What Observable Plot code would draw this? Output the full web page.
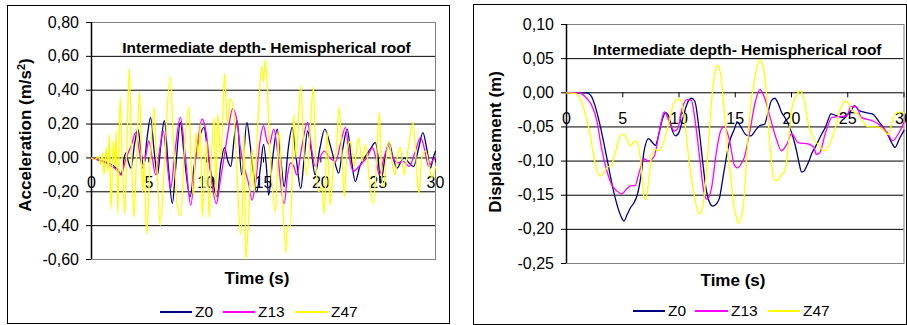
<!DOCTYPE html>
<html><head><meta charset="utf-8">
<script src="https://cdn.jsdelivr.net/npm/d3@7"></script>
<script src="https://cdn.jsdelivr.net/npm/@observablehq/plot@0.6"></script>
<style>
body{margin:0;background:#fff;font-family:"Liberation Sans",Arial,sans-serif;}
#root{position:relative;width:907px;height:325px;overflow:hidden;background:#fff}
.panel{position:absolute;border:1px solid #000;box-sizing:border-box;overflow:hidden;background:#fff}
.abs{position:absolute;white-space:nowrap;color:#000;line-height:1}
.ytitle{font-weight:bold;font-size:17px;transform:translate(-50%,-50%) rotate(-90deg)}
.xtitle{font-weight:bold;font-size:17px;transform:translate(-50%,-50%)}
.leg{font-size:15.5px;transform:translateY(-50%)}
.sw{position:absolute;height:0;border-top:2px solid}
.panel svg{position:absolute;left:0;top:0;max-width:none !important}
</style>
</head><body>
<div id="root">
  <div class="panel" id="pL" style="left:7px;top:5px;width:443px;height:319px"></div>
  <div class="panel" id="pR" style="left:473px;top:4px;width:434px;height:321px"></div>
</div>
<script>
const seriesNames = ["Z0", "Z13", "Z47"];
const seriesColors = ["#000080", "#ff00ff", "#ffff00"];
const chartTitle = "Intermediate depth- Hemispherical roof";
const xTicks = [0, 5, 10, 15, 20, 25, 30];
const accYTicks = [0.8, 0.6, 0.4, 0.2, 0, -0.2, -0.4, -0.6];
const dispYTicks = [0.10, 0.05, 0.00, -0.05, -0.10, -0.15, -0.20, -0.25];

// Acceleration (m/s2) vs time (s)
const accZ0 = [[0,0],[0.5,-0.01],[1.0,-0.02],[1.5,-0.03],[2.0,-0.05],[2.3,-0.07],[2.6,-0.10],[2.85,0.0],[3.0,0.03],[3.2,-0.02],[3.45,-0.06],[3.75,0.08],[4.05,0.17],[4.3,0.05],[4.55,-0.05],[4.85,0.12],[5.15,0.24],[5.45,0.05],[5.75,-0.10],[6.05,0.08],[6.35,0.22],[6.7,-0.05],[7.05,-0.27],[7.35,-0.05],[7.75,0.21],[8.1,0.0],[8.6,-0.23],[8.95,-0.05],[9.35,0.1],[9.8,0.18],[10.2,0.0],[10.6,-0.15],[10.95,-0.23],[11.25,-0.05],[11.6,0.06],[11.9,-0.02],[12.15,-0.05],[12.45,0.12],[12.7,0.22],[13.1,-0.1],[13.55,0.21],[13.8,0.1],[14.05,-0.05],[14.4,-0.20],[14.75,-0.05],[15.0,0.08],[15.25,-0.05],[15.45,-0.22],[15.8,0.0],[16.2,0.17],[16.5,0.0],[16.8,-0.17],[17.15,0.05],[17.5,0.18],[17.85,0.0],[18.25,-0.18],[18.55,0.0],[18.85,0.16],[19.15,0.05],[19.5,-0.10],[19.9,0.05],[20.35,0.17],[20.8,0.08],[21.2,-0.02],[21.55,-0.09],[21.9,0.05],[22.3,0.17],[22.65,0.0],[23.0,-0.14],[23.4,-0.05],[23.8,0.0],[24.3,0.05],[24.75,0.09],[25.0,0.0],[25.2,-0.15],[25.6,0.0],[25.95,0.09],[26.3,0.0],[26.65,-0.06],[27.0,-0.02],[27.3,0.0],[27.7,-0.03],[28.1,-0.05],[28.5,0.05],[28.9,0.15],[29.25,0.05],[29.55,-0.06],[29.8,0.0],[30,0.04]];
const accZ13 = [[0,0],[0.5,-0.01],[1.0,-0.02],[1.5,-0.04],[2.0,-0.06],[2.3,-0.08],[2.6,-0.10],[2.9,-0.03],[3.15,0.02],[3.5,0.08],[3.85,0.15],[4.15,0.05],[4.45,-0.06],[4.75,0.02],[5.0,0.10],[5.3,0.0],[5.6,-0.10],[5.95,0.05],[6.25,0.16],[6.55,0.0],[6.9,-0.18],[7.3,0.05],[7.75,0.24],[8.2,0.0],[8.65,-0.28],[9.1,0.0],[9.65,0.23],[10.0,0.15],[10.4,-0.1],[10.9,-0.27],[11.2,-0.15],[11.55,0.0],[11.9,0.15],[12.3,0.29],[12.6,0.25],[13.0,0.05],[13.3,-0.05],[13.7,-0.15],[14.0,-0.25],[14.3,-0.15],[14.7,0.10],[15.0,0.19],[15.3,0.10],[15.5,0.08],[15.9,0.17],[16.2,0.05],[16.5,-0.15],[16.8,-0.27],[17.1,-0.1],[17.35,-0.03],[17.65,-0.05],[17.9,-0.10],[18.3,0.05],[18.85,0.21],[19.2,0.05],[19.5,-0.05],[19.9,0.0],[20.3,0.04],[20.8,0.0],[21.3,-0.02],[21.7,0.08],[22.15,0.18],[22.5,0.0],[22.85,-0.08],[23.2,-0.06],[23.6,-0.03],[24.0,0.0],[24.5,0.06],[24.8,0.0],[25.1,-0.10],[25.5,0.0],[25.9,0.07],[26.3,0.0],[26.7,-0.03],[27.2,-0.02],[27.7,-0.05],[28.2,0.03],[28.7,0.12],[29.05,0.05],[29.4,-0.05],[29.7,-0.02],[30,0.0]];
const accZ47 = [[0,0],[0.3,-0.01],[0.6,0.01],[0.8,-0.04],[0.95,0.03],[1.1,-0.10],[1.3,0.06],[1.45,-0.08],[1.55,0.14],[1.7,-0.30],[1.9,0.10],[2.05,-0.05],[2.15,0.16],[2.3,-0.33],[2.5,0.36],[2.7,-0.05],[2.9,-0.33],[3.1,0.10],[3.3,0.53],[3.5,0.0],[3.7,-0.35],[3.95,0.05],[4.2,0.39],[4.45,-0.20],[4.6,0.0],[4.8,-0.45],[5.1,-0.05],[5.45,0.30],[5.7,-0.05],[6.0,-0.40],[6.35,-0.05],[6.85,0.48],[7.15,0.10],[7.5,-0.29],[7.8,-0.34],[8.1,0.05],[8.5,0.30],[8.7,-0.05],[8.9,-0.23],[9.1,0.15],[9.3,0.0],[9.5,0.20],[9.65,-0.35],[9.9,-0.05],[10.05,0.10],[10.25,-0.35],[10.45,0.0],[10.7,0.24],[10.85,-0.25],[11.0,0.26],[11.3,0.0],[11.6,0.50],[11.85,0.20],[12.1,0.35],[12.4,0.28],[12.7,-0.10],[13.0,-0.45],[13.15,-0.30],[13.3,0.15],[13.45,-0.60],[13.7,-0.35],[14.0,0.05],[14.2,-0.20],[14.5,0.20],[14.85,0.54],[15.0,0.45],[15.15,0.58],[15.35,0.40],[15.5,0.10],[15.75,-0.15],[16.05,-0.32],[16.35,0.16],[16.6,-0.15],[16.95,-0.56],[17.1,-0.40],[17.35,-0.41],[17.65,0.26],[17.85,0.0],[18.25,0.43],[18.55,0.0],[18.8,-0.10],[19.1,0.20],[19.35,0.42],[19.55,0.0],[19.8,-0.20],[20.1,-0.17],[20.3,-0.33],[20.55,0.16],[20.8,-0.28],[21.1,-0.05],[21.35,0.05],[21.6,0.30],[21.85,0.0],[22.05,-0.23],[22.3,0.05],[22.6,0.10],[22.9,-0.05],[23.3,0.12],[23.6,-0.02],[23.9,0.08],[24.2,-0.10],[24.55,-0.27],[24.8,-0.10],[25.1,0.27],[25.3,-0.10],[25.5,-0.17],[25.7,0.0],[25.95,0.10],[26.2,-0.02],[26.45,-0.10],[26.7,0.02],[26.95,0.06],[27.25,-0.10],[27.6,0.05],[28.05,0.21],[28.3,0.0],[28.55,-0.21],[28.8,0.0],[29.15,0.04],[29.45,-0.05],[29.7,-0.12],[30,-0.05]];

// Displacement (m) vs time (s)
const dispZ0 = [[0,0],[1.0,0],[1.8,0],[2.2,-0.005],[2.5,-0.017],[2.8,-0.035],[3.1,-0.056],[3.4,-0.08],[3.7,-0.105],[4.0,-0.13],[4.3,-0.152],[4.6,-0.17],[4.9,-0.183],[5.1,-0.188],[5.4,-0.178],[5.7,-0.168],[6.0,-0.161],[6.3,-0.149],[6.6,-0.124],[6.9,-0.085],[7.3,-0.067],[7.6,-0.072],[7.9,-0.077],[8.2,-0.061],[8.5,-0.04],[8.8,-0.029],[9.1,-0.035],[9.4,-0.055],[9.7,-0.063],[10.0,-0.058],[10.3,-0.04],[10.6,-0.022],[10.9,-0.01],[11.1,-0.008],[11.4,-0.012],[11.8,-0.056],[12.1,-0.10],[12.4,-0.14],[12.7,-0.16],[13.0,-0.166],[13.3,-0.163],[13.6,-0.154],[13.85,-0.13],[14.1,-0.105],[14.5,-0.071],[14.9,-0.054],[15.2,-0.043],[15.5,-0.05],[16.0,-0.062],[16.4,-0.063],[16.8,-0.055],[17.2,-0.048],[17.6,-0.046],[17.9,-0.03],[18.2,-0.012],[18.5,-0.008],[18.8,-0.015],[19.1,-0.028],[19.4,-0.036],[19.7,-0.045],[20.0,-0.058],[20.3,-0.075],[20.5,-0.089],[20.7,-0.105],[20.9,-0.116],[21.1,-0.115],[21.3,-0.109],[21.6,-0.098],[21.8,-0.089],[22.1,-0.08],[22.4,-0.07],[22.7,-0.06],[23.0,-0.051],[23.25,-0.04],[23.5,-0.031],[23.9,-0.033],[24.5,-0.036],[24.9,-0.033],[25.3,-0.026],[25.6,-0.019],[26.0,-0.026],[26.6,-0.029],[27.2,-0.031],[27.5,-0.036],[27.8,-0.043],[28.2,-0.052],[28.6,-0.063],[28.9,-0.073],[29.2,-0.080],[29.6,-0.067],[30,-0.055]];
const dispZ13 = [[0,0],[1.2,0],[1.4,-0.002],[1.8,-0.008],[2.2,-0.017],[2.7,-0.041],[3.1,-0.08],[3.6,-0.115],[4.0,-0.134],[4.5,-0.144],[4.9,-0.148],[5.4,-0.14],[5.8,-0.136],[6.1,-0.136],[6.4,-0.12],[6.9,-0.097],[7.3,-0.10],[7.8,-0.093],[8.2,-0.061],[8.5,-0.037],[8.7,-0.028],[9.1,-0.041],[9.6,-0.056],[9.9,-0.052],[10.3,-0.022],[10.7,-0.01],[11.1,-0.011],[11.4,-0.037],[11.8,-0.09],[12.2,-0.144],[12.5,-0.156],[12.9,-0.139],[13.3,-0.09],[13.7,-0.056],[14.0,-0.05],[14.5,-0.07],[14.9,-0.105],[15.2,-0.11],[15.5,-0.105],[15.8,-0.095],[16.3,-0.056],[16.8,-0.012],[17.2,0.005],[17.6,-0.007],[18.1,-0.036],[18.7,-0.07],[19.1,-0.085],[19.6,-0.075],[20.0,-0.06],[20.6,-0.073],[21.5,-0.075],[22.0,-0.08],[22.2,-0.09],[22.5,-0.088],[23.0,-0.06],[23.6,-0.036],[24.2,-0.035],[24.9,-0.034],[25.3,-0.02],[25.8,-0.021],[26.2,-0.036],[27.2,-0.041],[27.9,-0.048],[28.5,-0.058],[29.0,-0.07],[29.5,-0.06],[30,-0.043]];
const dispZ47 = [[0,0],[0.75,-0.001],[1.2,-0.007],[1.6,-0.027],[2.1,-0.061],[2.5,-0.10],[3.0,-0.122],[3.3,-0.117],[3.6,-0.11],[4.0,-0.105],[4.3,-0.09],[4.8,-0.063],[5.1,-0.061],[5.4,-0.069],[5.7,-0.078],[6.0,-0.071],[6.3,-0.073],[6.6,-0.10],[6.9,-0.154],[7.05,-0.156],[7.3,-0.129],[7.6,-0.09],[7.9,-0.083],[8.2,-0.085],[8.5,-0.078],[9.0,-0.051],[9.5,-0.017],[9.9,-0.009],[10.2,-0.012],[10.5,-0.041],[10.9,-0.10],[11.4,-0.154],[11.8,-0.177],[12.1,-0.168],[12.4,-0.124],[12.7,-0.056],[13.0,0.007],[13.3,0.037],[13.5,0.04],[13.7,0.027],[14.0,-0.022],[14.3,-0.08],[14.6,-0.124],[14.9,-0.168],[15.1,-0.182],[15.3,-0.191],[15.7,-0.168],[16.0,-0.10],[16.3,-0.031],[16.8,0.027],[17.2,0.048],[17.5,0.037],[17.8,-0.007],[18.1,-0.08],[18.4,-0.124],[18.7,-0.129],[19.1,-0.12],[19.4,-0.115],[19.7,-0.08],[20.0,-0.026],[20.5,-0.002],[20.8,0.003],[21.1,-0.009],[21.5,-0.046],[22.0,-0.068],[22.5,-0.078],[22.9,-0.085],[23.4,-0.075],[23.9,-0.051],[24.3,-0.026],[24.8,-0.012],[25.1,-0.016],[25.4,-0.026],[25.9,-0.031],[26.3,-0.041],[26.8,-0.05],[27.4,-0.05],[28.0,-0.052],[28.6,-0.061],[28.9,-0.046],[29.2,-0.031],[29.8,-0.028],[30,-0.03]];

const fmt = d => d.toFixed(2).replace(".", ",");
const FONT = "'Liberation Sans', Arial, sans-serif";

function makeChart(cfg) {
  const lines = cfg.series.map((s, i) => Plot.line(s, {x: d => d[0], y: d => d[1], stroke: seriesColors[i], strokeWidth: 1.3, curve: "monotone-x"}));
  return Plot.plot({
    width: cfg.width, height: cfg.height,
    marginLeft: cfg.ml, marginRight: cfg.mr, marginTop: cfg.mt, marginBottom: cfg.mb,
    x: {domain: [0, 30], axis: null},
    y: {domain: cfg.yDomain, axis: null},
    style: {fontFamily: FONT, fontSize: "16px", color: "#000", background: "transparent", overflow: "visible", maxWidth: "none"},
    marks: [
      Plot.gridY(cfg.yTicks, {stroke: "#000", strokeOpacity: 1, strokeWidth: 1}),
      Plot.frame({stroke: "#808080", strokeWidth: 1}),
      Plot.axisY({ticks: cfg.yTicks, tickSize: 5, tickPadding: 7.5, tickFormat: fmt, label: null, fontSize: 16, stroke: "#000"}),
      Plot.ruleX([0], {stroke: "#000", strokeWidth: 1.5}),
      Plot.ruleX(xTicks, {x: d => d, y1: 0, y2: 0, insetBottom: -5, stroke: "#000"}),
      Plot.text(xTicks, {x: d => d, y: 0, dy: cfg.xLabDy, text: d => String(d), fontSize: 16, fill: "#000"}),
      Plot.text([chartTitle], {frameAnchor: "top", dy: 19, dx: cfg.titleDx, text: d => d, fontWeight: "bold", fontSize: 15.5, fill: "#000"}),
      ...lines
    ]
  });
}

function addOverlay(panel, o) {
  const yt = document.createElement("div");
  yt.className = "abs ytitle";
  yt.style.left = o.yt[0] + "px"; yt.style.top = o.yt[1] + "px";
  yt.innerHTML = o.ytitle;
  panel.appendChild(yt);
  const xt = document.createElement("div");
  xt.className = "abs xtitle";
  xt.style.left = o.xt[0] + "px"; xt.style.top = o.xt[1] + "px";
  xt.textContent = "Time (s)";
  panel.appendChild(xt);
  seriesNames.forEach((n, i) => {
    const sw = document.createElement("div");
    sw.className = "sw";
    sw.style.left = o.leg[i][0] + "px"; sw.style.width = (o.leg[i][1] - o.leg[i][0]) + "px";
    sw.style.top = (o.legY - 1) + "px"; sw.style.borderTopColor = seriesColors[i];
    panel.appendChild(sw);
    const t = document.createElement("div");
    t.className = "abs leg";
    t.style.left = o.leg[i][2] + "px"; t.style.top = o.legY + "px";
    t.textContent = n;
    panel.appendChild(t);
  });
}

const pL = document.getElementById("pL");
const pR = document.getElementById("pR");

pL.appendChild(makeChart({width: 440, height: 290, ml: 83, mr: 13, mt: 16, mb: 37,
  yDomain: [-0.6, 0.8], yTicks: accYTicks, series: [accZ0, accZ13, accZ47], xLabDy: 25, titleDx: 3}));
addOverlay(pL, {ytitle: "Acceleration (m/s<sup style='font-size:11px'>2</sup>)", yt: [17, 129], xt: [249, 272],
  legY: 306, leg: [[152, 184, 187], [215, 247, 250], [287, 320, 323]]});

pR.appendChild(makeChart({width: 440, height: 290, ml: 92, mr: 10.5, mt: 19, mb: 32,
  yDomain: [-0.25, 0.10], yTicks: dispYTicks, series: [dispZ0, dispZ13, dispZ47], xLabDy: 26, titleDx: 2}));
addOverlay(pR, {ytitle: "Displacement (m)", yt: [21, 137], xt: [259, 275],
  legY: 306, leg: [[159, 191, 194], [221, 254, 257], [294, 326, 329]]});
</script>
</body></html>
